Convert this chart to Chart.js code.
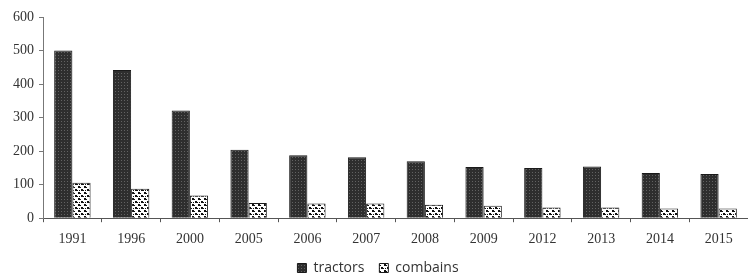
<!DOCTYPE html>
<html>
<head>
<meta charset="utf-8">
<script src="https://cdn.jsdelivr.net/npm/chart.js@4"></script>
<style>
  html, body { margin: 0; padding: 0; background: #fff; }
  #wrap { width: 748px; height: 279px; }
</style>
</head>
<body>
<div id="wrap"><canvas id="farmChart"></canvas></div>
<script>
const years = ["1991", "1996", "2000", "2005", "2006", "2007", "2008", "2009", "2012", "2013", "2014", "2015"];
const tractors = [500, 442, 321, 204, 188, 182, 170, 153, 150, 154, 135, 132];
const combains = [106, 88, 68, 45, 44, 44, 40, 37, 32, 32, 29, 29];
const yTicks = [0, 100, 200, 300, 400, 500, 600];

// dark fill with a faint grid of lighter dots
function tractorPattern() {
  const c = document.createElement("canvas");
  c.width = 3; c.height = 3;
  const g = c.getContext("2d");
  g.fillStyle = "#2e2e2e";
  g.fillRect(0, 0, 3, 3);
  g.fillStyle = "#626262";
  g.fillRect(1, 1, 1, 1);
  return g.createPattern(c, "repeat");
}

// white fill with black blobs
function combainPattern() {
  const c = document.createElement("canvas");
  c.width = 6; c.height = 6;
  const g = c.getContext("2d");
  g.fillStyle = "#ffffff";
  g.fillRect(0, 0, 6, 6);
  g.fillStyle = "#111";
  g.fillRect(0, 0, 2, 2);
  g.fillRect(3, 3, 2, 2);
  g.fillRect(2, 1, 1, 1);
  g.fillRect(5, 4, 1, 1);
  g.fillRect(1, 4, 1, 1);
  return g.createPattern(c, "repeat");
}

new Chart("farmChart", {
  type: "bar",
  data: {
    labels: years,
    datasets: [
      {
        label: "tractors",
        data: tractors,
        backgroundColor: tractorPattern(),
        borderColor: "#1a1a1a",
        borderWidth: 1,
      },
      {
        label: "combains",
        data: combains,
        backgroundColor: combainPattern(),
        borderColor: "#1a1a1a",
        borderWidth: 1,
      },
    ],
  },
  options: {
    responsive: true,
    maintainAspectRatio: false,
    animation: false,
    layout: { padding: { top: 17, right: 0, left: 8, bottom: -6 } },
    datasets: {
      bar: { categoryPercentage: 0.62, barPercentage: 1.0 },
    },
    scales: {
      x: {
        grid: {
          display: true,
          drawOnChartArea: false,
          drawTicks: true,
          tickLength: 4,
          color: "#555",
        },
        border: { color: "#555", width: 1 },
        ticks: {
          color: "#333",
          padding: 9,
          font: { family: "Liberation Serif", size: 14 },
        },
      },
      y: {
        min: 0,
        max: 600,
        afterBuildTicks: (axis) => {
          axis.ticks = yTicks.map((v) => ({ value: v }));
        },
        grid: {
          display: true,
          drawOnChartArea: false,
          drawTicks: true,
          tickLength: 4,
          color: "#777",
        },
        border: { color: "#777", width: 1 },
        ticks: {
          color: "#333",
          padding: 5,
          font: { family: "Liberation Serif", size: 14 },
        },
      },
    },
    plugins: {
      legend: {
        position: "bottom",
        labels: {
          boxWidth: 9,
          boxHeight: 9,
          padding: 4,
          color: "#333",
          font: { family: "Open Sans", size: 14 },
          // wider gap between the two entries without growing the legend height
          generateLabels: (chart) => {
            const items = Chart.defaults.plugins.legend.labels.generateLabels(chart);
            items.forEach((it, i) => {
              if (i < items.length - 1) it.text = it.text + "   ";
            });
            return items;
          },
        },
      },
      tooltip: { enabled: false },
    },
  },
});
</script>
</body>
</html>
